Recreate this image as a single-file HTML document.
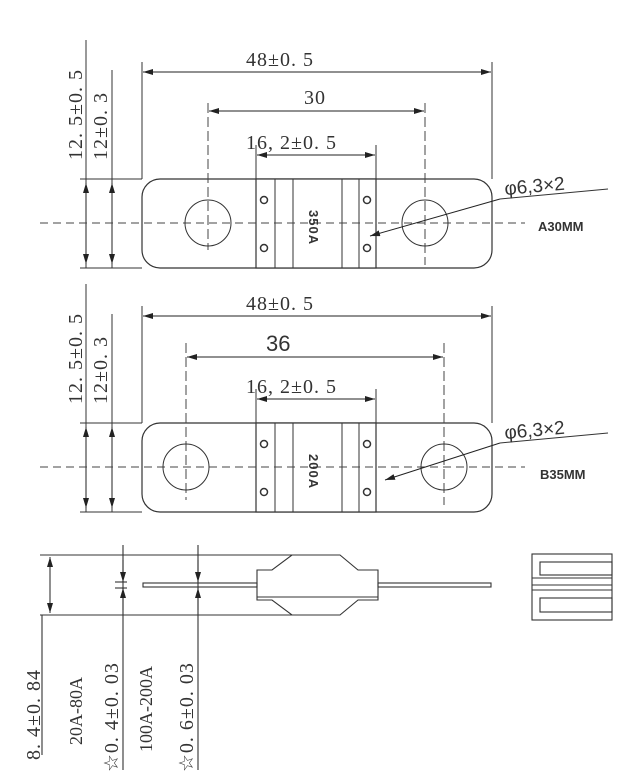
<!DOCTYPE html>
<html><head><meta charset="utf-8"><style>
html,body{margin:0;padding:0;background:#fff}
svg{display:block}
text{font-family:"Liberation Serif",serif;fill:#333}
.s{font-family:"Liberation Sans",sans-serif}
.d{font-size:20px;letter-spacing:1px}
</style></head><body>
<svg width="636" height="781" viewBox="0 0 636 781" xmlns="http://www.w3.org/2000/svg">
<defs>
<marker id="a" viewBox="0 0 10 6" refX="10" refY="3" markerWidth="10" markerHeight="6" orient="auto-start-reverse" markerUnits="userSpaceOnUse"><path d="M0,0L10,3L0,6z" fill="#222"/></marker>
<g id="fuse">
<rect x="142" y="179" width="350" height="89" rx="18" fill="none" stroke="#333" stroke-width="1.2"/>
<rect x="256" y="179" width="120" height="89" fill="#fff" stroke="#333" stroke-width="1.2"/>
<line x1="275" y1="179" x2="275" y2="268" stroke="#333"/>
<line x1="293" y1="179" x2="293" y2="268" stroke="#333"/>
<line x1="342" y1="179" x2="342" y2="268" stroke="#333"/>
<line x1="359" y1="179" x2="359" y2="268" stroke="#333"/>
<circle cx="264" cy="200" r="3.5" fill="none" stroke="#333" stroke-width="1.5"/>
<circle cx="264" cy="248" r="3.5" fill="none" stroke="#333" stroke-width="1.5"/>
<circle cx="367" cy="200" r="3.5" fill="none" stroke="#333" stroke-width="1.5"/>
<circle cx="367" cy="248" r="3.5" fill="none" stroke="#333" stroke-width="1.5"/>
<line x1="80" y1="179" x2="142" y2="179" stroke="#333"/>
<line x1="80" y1="268" x2="142" y2="268" stroke="#333"/>
<line x1="86" y1="40" x2="86" y2="268" stroke="#333"/>
<line x1="112" y1="70" x2="112" y2="268" stroke="#333"/>
<line x1="86" y1="183" x2="86" y2="264" stroke="#222" marker-start="url(#a)" marker-end="url(#a)"/>
<line x1="112" y1="183" x2="112" y2="264" stroke="#222" marker-start="url(#a)" marker-end="url(#a)"/>
<text transform="translate(82,160) rotate(-90)" class="d">12. 5±0. 5</text>
<text transform="translate(107,160) rotate(-90)" class="d">12±0. 3</text>
<line x1="142" y1="62" x2="142" y2="179" stroke="#333"/>
<line x1="492" y1="62" x2="492" y2="179" stroke="#333"/>
<line x1="143" y1="72" x2="491" y2="72" stroke="#222" marker-start="url(#a)" marker-end="url(#a)"/>
<text x="246" y="66" class="d">48±0. 5</text>
<line x1="256" y1="145" x2="256" y2="179" stroke="#333"/>
<line x1="376" y1="145" x2="376" y2="179" stroke="#333"/>
<line x1="257" y1="155" x2="375" y2="155" stroke="#222" marker-start="url(#a)" marker-end="url(#a)"/>
<text x="246" y="149" class="d">16, 2±0. 5</text>
<line x1="40" y1="223" x2="525" y2="223" stroke="#444" stroke-dasharray="8,5"/>
<text x="505" y="195" class="s" font-size="19" transform="rotate(-5 505 195)">φ6,3×2</text>
<line x1="500" y1="199" x2="608" y2="189" stroke="#333"/>
</g>
</defs>
<use href="#fuse"/>
<line x1="208" y1="103" x2="208" y2="250" stroke="#444" stroke-dasharray="10,4"/>
<line x1="425" y1="103" x2="425" y2="265" stroke="#444" stroke-dasharray="10,4"/>
<line x1="209" y1="111" x2="424" y2="111" stroke="#222" marker-start="url(#a)" marker-end="url(#a)"/>
<text x="304" y="104" class="d">30</text>
<circle cx="208" cy="223" r="23" fill="none" stroke="#333"/>
<circle cx="425" cy="223" r="23" fill="none" stroke="#333"/>
<text transform="translate(309,210) rotate(90)" class="s" font-size="13" font-weight="bold" letter-spacing="1">350A</text>
<line x1="500" y1="199" x2="370" y2="236" stroke="#222" marker-end="url(#a)"/>
<text x="538" y="231" class="s" font-size="13" font-weight="bold">A30MM</text>
<use href="#fuse" y="244"/>
<line x1="186" y1="343" x2="186" y2="500" stroke="#444" stroke-dasharray="10,4"/>
<line x1="444" y1="343" x2="444" y2="505" stroke="#444" stroke-dasharray="10,4"/>
<line x1="187" y1="357" x2="443" y2="357" stroke="#222" marker-start="url(#a)" marker-end="url(#a)"/>
<text x="266" y="351" class="s" font-size="22">36</text>
<circle cx="186" cy="467" r="23" fill="none" stroke="#333"/>
<circle cx="444" cy="467" r="23" fill="none" stroke="#333"/>
<text transform="translate(309,454) rotate(90)" class="s" font-size="13" font-weight="bold" letter-spacing="1">200A</text>
<line x1="500" y1="443" x2="385" y2="480" stroke="#222" marker-end="url(#a)"/>
<text x="540" y="479" class="s" font-size="13" font-weight="bold">B35MM</text>
<g stroke="#333" fill="none" stroke-width="1.1">
<line x1="40" y1="555" x2="292" y2="555"/>
<line x1="40" y1="615" x2="292" y2="615"/>
<polygon points="292,555 340,555 358,570 378,570 378,600 358,600 340,615 292,615 272,600 257,600 257,570 272,570" fill="#fff"/>
<line x1="257" y1="597" x2="378" y2="597"/>
<rect x="143" y="583" width="114" height="4"/>
<rect x="378" y="583" width="113" height="4"/>
<line x1="115" y1="582" x2="127" y2="582"/>
<line x1="115" y1="588" x2="127" y2="588"/>
<line x1="123" y1="545" x2="123" y2="770"/>
<line x1="198" y1="545" x2="198" y2="770"/>
<line x1="42" y1="615" x2="42" y2="755"/>
<rect x="532" y="554" width="80" height="66"/>
<rect x="540" y="562" width="72" height="13"/>
<rect x="540" y="598" width="72" height="14"/>
<line x1="532" y1="578" x2="612" y2="578"/>
<line x1="532" y1="585" x2="612" y2="585"/>
<line x1="532" y1="590" x2="612" y2="590"/>
</g>
<line x1="50" y1="557" x2="50" y2="613" stroke="#222" marker-start="url(#a)" marker-end="url(#a)"/>
<line x1="123" y1="560" x2="123" y2="582" stroke="#222" marker-end="url(#a)"/>
<line x1="123" y1="610" x2="123" y2="588" stroke="#222" marker-end="url(#a)"/>
<line x1="198" y1="560" x2="198" y2="582" stroke="#222" marker-end="url(#a)"/>
<line x1="198" y1="610" x2="198" y2="588" stroke="#222" marker-end="url(#a)"/>
<text transform="translate(40,760) rotate(-90)" class="d">8. 4±0. 84</text>
<text transform="translate(82,745) rotate(-90)" font-size="18">20A-80A</text>
<text transform="translate(118,772) rotate(-90)" class="d">☆0. 4±0. 03</text>
<text transform="translate(152,752) rotate(-90)" font-size="18">100A-200A</text>
<text transform="translate(193,772) rotate(-90)" class="d">☆0. 6±0. 03</text>
</svg>
</body></html>
